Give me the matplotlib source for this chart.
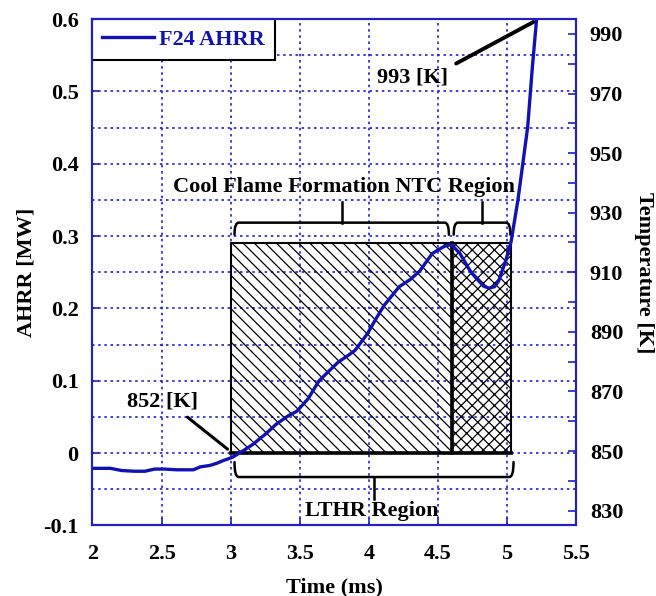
import matplotlib
matplotlib.use('Agg')
import matplotlib.pyplot as plt
from matplotlib.patches import Rectangle, PathPatch
from matplotlib.path import Path
from matplotlib.ticker import MultipleLocator, FormatStrFormatter

plt.rcParams['font.family'] = ['Liberation Serif', 'DejaVu Serif']
plt.rcParams['font.weight'] = 'bold'
plt.rcParams['axes.labelweight'] = 'bold'
plt.rcParams['axes.unicode_minus'] = False
plt.rcParams['hatch.linewidth'] = 0.9

# apparent heat release rate trace (ms, MW)
time_ms = [2.0, 2.13, 2.21, 2.30, 2.38, 2.45, 2.52, 2.61, 2.73, 2.78, 2.85, 2.90, 2.95,
           3.01, 3.08, 3.16, 3.25, 3.33, 3.42, 3.48, 3.56, 3.64, 3.72, 3.78, 3.85, 3.90,
           3.99, 4.05, 4.11, 4.22, 4.30, 4.37, 4.46, 4.52, 4.56, 4.60, 4.66, 4.74, 4.83,
           4.87, 4.91, 4.94, 4.99, 5.03, 5.08, 5.15, 5.185, 5.215]
ahrr_mw = [-0.021, -0.021, -0.024, -0.025, -0.025, -0.022, -0.022, -0.023, -0.023, -0.019,
           -0.017, -0.014, -0.010, -0.006, 0.002, 0.012, 0.026, 0.040, 0.052, 0.058, 0.075,
           0.100, 0.115, 0.126, 0.135, 0.142, 0.165, 0.185, 0.204, 0.230, 0.240, 0.252,
           0.276, 0.283, 0.287, 0.288, 0.276, 0.250, 0.231, 0.228, 0.230, 0.238, 0.265,
           0.292, 0.350, 0.450, 0.535, 0.600]

x_ticks = [2, 2.5, 3, 3.5, 4, 4.5, 5, 5.5]
ahrr_ticks = [-0.1, 0, 0.1, 0.2, 0.3, 0.4, 0.5, 0.6]
temp_ticks = [830, 850, 870, 890, 910, 930, 950, 970, 990]

# time windows of the two combustion phases
cool_flame = (3.0, 4.6)
ntc_region = (4.6, 5.03)
region_top = 0.29

blue = '#1212b4'
axis_blue = '#2020c8'


def brace(ax, x0, x1, y_end, y_flat, y_tip, dx=0.03):
    xm = (x0 + x1) / 2
    verts = [(x0, y_end), (x0, y_flat), (x0 + dx, y_flat),
             (x1 - dx, y_flat), (x1, y_flat), (x1, y_end)]
    codes = [Path.MOVETO, Path.CURVE3, Path.CURVE3,
             Path.LINETO, Path.CURVE3, Path.CURVE3]
    ax.add_patch(PathPatch(Path(verts, codes), fill=False, lw=1.8,
                           edgecolor='black', capstyle='round', zorder=4))
    ax.plot([xm, xm], [y_flat, y_tip], color='black', lw=1.8, zorder=4)


fig = plt.figure(figsize=(6.56, 5.96), dpi=100)
ax = fig.add_axes([0.141, 0.1183, 0.737, 0.8497])
ax2 = ax.twinx()

ax.set_xlim(2, 5.5)
ax.set_ylim(-0.1, 0.6)
ax2.set_ylim(825, 995)

ax.set_xticks(x_ticks)
ax.set_yticks(ahrr_ticks)
ax.yaxis.set_minor_locator(MultipleLocator(0.05))
ax.yaxis.set_major_formatter(FormatStrFormatter('%g'))
ax.xaxis.set_major_formatter(FormatStrFormatter('%g'))
ax2.set_yticks(temp_ticks)
ax2.yaxis.set_minor_locator(MultipleLocator(10))

ax.grid(True, which='major', axis='x', color=axis_blue, ls=(0, (1.5, 2.2)), lw=1.2)
ax.grid(True, which='both', axis='y', color=axis_blue, ls=(0, (1.5, 2.2)), lw=1.2)
ax.set_axisbelow(True)

for a in (ax, ax2):
    for s in a.spines.values():
        s.set_color(axis_blue)
        s.set_linewidth(1.5)
ax.tick_params(which='both', direction='in', colors=axis_blue, labelcolor='black',
               labelsize=16, length=5, width=1.2, pad=10)
ax.tick_params(axis='x', pad=13)
ax.tick_params(which='minor', length=0)
ax2.tick_params(which='both', direction='in', colors=axis_blue, labelcolor='black',
                labelsize=16, length=6, width=1.2, pad=10)

# hatched phase windows
ax.add_patch(Rectangle((cool_flame[0], 0), cool_flame[1] - cool_flame[0], region_top,
                       fill=False, hatch='\\\\\\', edgecolor='black', lw=1.5, zorder=2))
ax.add_patch(Rectangle((ntc_region[0], 0), ntc_region[1] - ntc_region[0], region_top,
                       fill=False, hatch='xxx', edgecolor='black', lw=1.5, zorder=2))
ax.plot([ntc_region[0], ntc_region[0]], [0, region_top], color='black', lw=2.6, zorder=3)
ax.plot([cool_flame[0], ntc_region[1]], [0, 0], color='black', lw=2.6, zorder=3)

ax.plot(time_ms, ahrr_mw, color=blue, lw=2.4, label='F24 AHRR', zorder=5)

brace(ax, cool_flame[0] + 0.028, cool_flame[1] - 0.02, 0.302, 0.3186, 0.3475)
brace(ax, ntc_region[0] + 0.015, ntc_region[1] - 0.005, 0.302, 0.3186, 0.3475)
brace(ax, cool_flame[0] + 0.028, ntc_region[1] + 0.018, -0.0124, -0.033, -0.0634)

ax.text(3.82, 0.368, 'Cool Flame Formation NTC Region', ha='center', va='center',
        fontsize=16, zorder=6)
ax.text(4.02, -0.0795, 'LTHR Region', ha='center', va='center', fontsize=16, zorder=6)

ax.annotate('852 [K]', xy=(2.978, 0.0055), xytext=(2.51, 0.071), ha='center', va='center',
            fontsize=16, zorder=6,
            arrowprops=dict(arrowstyle='-', lw=2.2, color='black', relpos=(0.75, 0),
                            shrinkA=3, shrinkB=0))
ax.annotate('993 [K]', xy=(5.192, 0.596), xytext=(4.32, 0.519), ha='center', va='center',
            fontsize=16, zorder=6,
            arrowprops=dict(arrowstyle='-', lw=2.8, color='black', relpos=(1, 1),
                            shrinkA=4, shrinkB=0))

leg = ax.legend(loc='upper left', bbox_to_anchor=(0, 1), borderaxespad=0, fontsize=16,
                labelcolor=blue, fancybox=False, edgecolor='black', framealpha=1,
                handlelength=2.3, handletextpad=0.25, borderpad=0.45)
leg.get_frame().set_linewidth(1.5)

ax.set_xlabel('Time (ms)', fontsize=16, labelpad=10)
ax.set_ylabel('AHRR [MW]', fontsize=16, labelpad=5)
ax2.set_ylabel('Temperature [K]', fontsize=16, rotation=270, labelpad=22)

fig.savefig('out.png', dpi=100)
